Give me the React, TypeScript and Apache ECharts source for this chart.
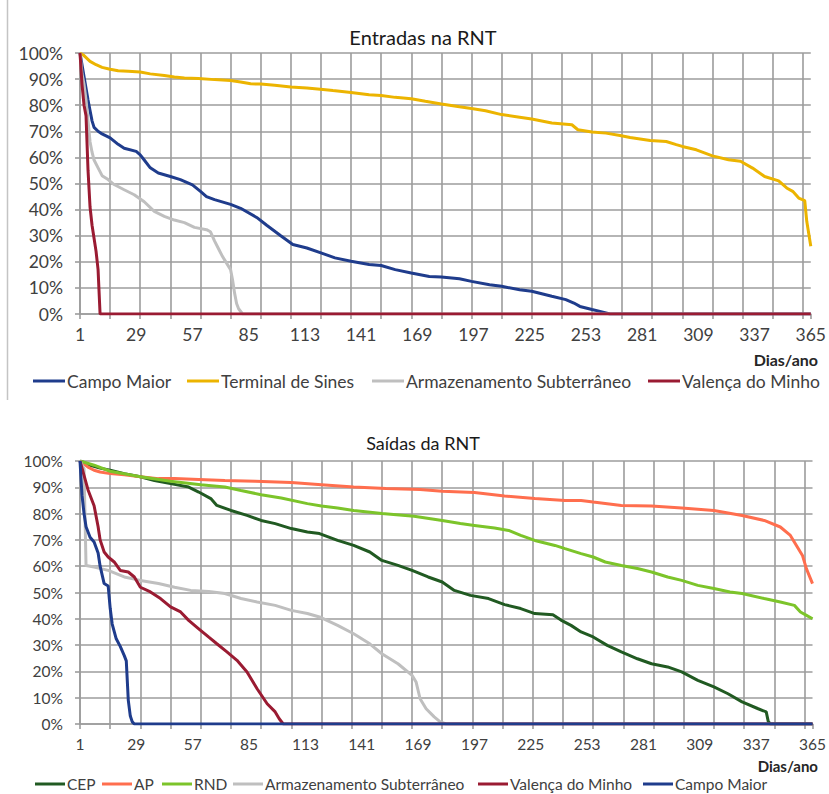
import React, { useEffect, useRef } from 'react';
import * as echarts from 'echarts';

// Categories (days of the year)
const days: string[] = Array.from({ length: 365 }, (_, i) => String(i + 1));

// ---- Entradas na RNT ([day, % of capacity]) ----
const inCampoMaior: [number, number][] = [
  [1, 100], [3, 91], [5, 82], [6, 78], [7, 74], [8, 71.5], [10, 70], [12, 69], [16, 67.5], [20, 65], [23, 63.5],
  [29, 62.3], [31, 61], [33, 59], [36, 56], [40, 54], [46, 52.7], [51, 51.5], [57, 49.5], [61, 47], [64, 45],
  [68, 43.8], [76, 42], [81, 40.5], [89, 37], [94, 34], [101, 30], [107, 26.6], [114, 25.3], [121, 23.4],
  [128, 21.5], [136, 20.2], [145, 19], [151, 18.6], [158, 17], [166, 15.7], [175, 14.4], [181, 14.2],
  [190, 13.5], [196, 12.5], [205, 11.2], [211, 10.6], [220, 9.3], [226, 8.7], [236, 6.8], [243, 5.5],
  [247, 4.2], [250, 2.9], [256, 1.7], [260, 1], [265, 0], [365, 0],
];
const inSines: [number, number][] = [
  [1, 100], [3, 99], [6, 96.8], [9, 95.5], [12, 94.5], [16, 93.8], [20, 93.2], [25, 93], [31, 92.7], [36, 92],
  [43, 91.4], [48, 90.8], [53, 90.4], [60, 90.2], [68, 89.8], [76, 89.5], [81, 88.9], [86, 88.2], [91, 88.1],
  [98, 87.6], [106, 87], [114, 86.6], [122, 86], [127, 85.6], [136, 84.9], [145, 84], [151, 83.7], [158, 83],
  [166, 82.5], [173, 81.5], [181, 80.5], [190, 79.4], [196, 78.7], [203, 77.9], [211, 76.4], [220, 75.4],
  [226, 74.7], [236, 73.2], [246, 72.5], [249, 70.6], [256, 69.7], [263, 69.3], [270, 68.4], [275, 67.6],
  [285, 66.5], [293, 66.1], [298, 64.9], [301, 64.2], [308, 62.9], [316, 60.6], [324, 59.1], [330, 58.5],
  [336, 55.9], [342, 52.7], [349, 51], [353, 48.3], [356, 47], [359, 44.4], [362, 43.4], [363, 35.5], [365, 26],
];
const inArmazenamento: [number, number][] = [
  [1, 100], [2, 92], [3, 88], [4, 82], [5, 74], [6, 66], [7, 62], [8, 59], [10, 56], [12, 53], [15, 51.5],
  [18, 49.6], [23, 47.6], [28, 45.7], [33, 43], [38, 39.3], [43, 37.4], [48, 36], [53, 35], [58, 33.2],
  [64, 32.3], [66, 31.5], [68, 28], [70, 25], [72, 22], [74, 19.5], [76, 17], [77, 13], [78, 8], [79, 4],
  [80, 2], [82, 0], [365, 0],
];
const inValenca: [number, number][] = [
  [1, 100], [2, 88], [3, 80], [4, 76], [5, 55], [6, 41], [7, 34], [8, 29], [9, 24], [10, 17], [11, 0], [365, 0],
];

// ---- Saídas da RNT ([day, % of capacity]) ----
const outCEP: [number, number][] = [
  [1, 100], [6, 98.4], [11, 97.3], [16, 96.5], [23, 95.2], [31, 94], [38, 92.6], [46, 91.4], [55, 90.1],
  [60, 88.2], [66, 85.7], [69, 83.1], [76, 81.2], [84, 79.3], [91, 77.4], [98, 76.2], [106, 74.3], [114, 73],
  [120, 72.4], [129, 69.8], [137, 67.9], [145, 65.4], [151, 62.2], [159, 60.3], [166, 58.4], [174, 55.9],
  [181, 54], [187, 50.8], [195, 48.9], [204, 47.7], [212, 45.4], [220, 43.9], [227, 42], [236, 41.5],
  [240, 39.5], [245, 37.5], [250, 35], [256, 33.1], [263, 29.9], [270, 27.4], [278, 24.8], [285, 22.9],
  [293, 21.7], [300, 19.8], [308, 16.6], [316, 14.1], [323, 11.5], [330, 8.4], [338, 5.8], [342, 4.6],
  [343, 1], [344, 0], [365, 0],
];
const outAP: [number, number][] = [
  [1, 100], [5, 97.7], [8, 96.5], [11, 95.8], [16, 95.2], [23, 94.8], [31, 94], [40, 93.3], [48, 93.3],
  [60, 93], [73, 92.6], [88, 92.3], [106, 91.8], [121, 91], [137, 90.1], [153, 89.5], [170, 89.2], [181, 88.5],
  [197, 88], [212, 86.7], [227, 85.7], [242, 85], [250, 85], [256, 84.4], [270, 83.1], [285, 82.9], [300, 82.1],
  [316, 81.2], [330, 79.3], [341, 77.4], [349, 74.9], [354, 71.7], [357, 67.9], [360, 64.1], [362, 59], [365, 53.4],
];
const outRND: [number, number][] = [
  [1, 100], [8, 98.4], [16, 96.1], [31, 94], [46, 92.3], [61, 91], [73, 90.1], [81, 88.8], [91, 87.2],
  [101, 85.9], [114, 83.8], [121, 82.9], [129, 82.1], [137, 81.2], [151, 80], [167, 79], [181, 77.4],
  [190, 76.2], [197, 75.5], [207, 74.5], [214, 73.6], [220, 71.7], [227, 69.8], [237, 67.9], [242, 66.7],
  [250, 64.8], [256, 63.5], [262, 61.6], [270, 60.3], [278, 59.1], [285, 57.8], [293, 55.9], [300, 54.6],
  [308, 52.7], [316, 51.5], [324, 50.2], [330, 49.6], [341, 47.7], [349, 46.4], [356, 45.1], [359, 42.6],
  [362, 41.3], [365, 40],
];
const outArmazenamento: [number, number][] = [
  [1, 100], [3, 97], [4, 60.3], [8, 59.7], [15, 58.4], [23, 55.9], [31, 54.6], [40, 53.4], [48, 52], [56, 50.8],
  [65, 50.4], [73, 49.6], [81, 47.7], [89, 46.4], [98, 45.1], [106, 43.2], [114, 42], [120, 40.7], [129, 37.5],
  [137, 34.3], [145, 30.5], [151, 26.7], [159, 22.9], [166, 18.5], [168, 16], [170, 9.6], [173, 5.8],
  [177, 2.7], [180, 0.8], [183, 0], [365, 0],
];
const outValenca: [number, number][] = [
  [1, 100], [3, 94.5], [5, 89], [8, 83], [10, 75], [11, 70], [13, 65.4], [15, 63.5], [18, 61.6], [21, 58.4],
  [25, 57.8], [28, 55.9], [31, 52], [36, 50.2], [41, 47.7], [46, 44.5], [51, 42.6], [55, 39.4], [60, 36.2],
  [65, 33], [69, 30.5], [74, 27.4], [79, 24.2], [84, 19.8], [89, 13.4], [94, 7.7], [98, 4.6], [100, 2],
  [102, 0], [365, 0],
];
const outCampoMaior: [number, number][] = [
  [1, 100], [2, 87], [3, 80], [4, 75], [6, 71], [8, 69.2], [10, 65], [11, 60], [13, 53.4], [15, 52.5],
  [16, 44], [17, 38], [19, 32.4], [21, 29.5], [23, 26], [24, 24], [25, 9], [26, 3], [27, 0.8], [28, 0], [365, 0],
];

const COLORS: Record<string, string> = {
  'Campo Maior': '#1f3c8c',
  'Terminal de Sines': '#ecb400',
  'Armazenamento Subterrâneo': '#bfbfbf',
  'Valença do Minho': '#9a1b32',
  CEP: '#215a22',
  AP: '#ff6e4e',
  RND: '#7cc42a',
};

const FONT = 'Lato, "Open Sans", sans-serif';
const GRID_COLOR = '#9c9c9c';
const LABEL_COLOR = '#404040';
const FS_TOP = 17.5;
const FS_BOTTOM = 15.5;
const gridLine = () => ({ color: GRID_COLOR, width: 1.6 });

const toData = (arr: [number, number][]) => arr.map(([d, v]) => [String(d), v]);

function xAxisFor(gridIndex: number, fs: number) {
  return {
    type: 'category',
    gridIndex,
    data: days,
    boundaryGap: false,
    axisLine: { show: true, lineStyle: gridLine() },
    axisTick: { show: false },
    splitLine: { show: false },
    axisLabel: { interval: 27, margin: fs > 16 ? 11 : 12, color: LABEL_COLOR, fontSize: fs, fontFamily: FONT },
  };
}

// hidden helper axis (day index 0..364) that draws the vertical grid every 15 days
function xGridAxisFor(gridIndex: number) {
  return {
    type: 'value',
    gridIndex,
    position: 'bottom',
    min: 0,
    max: 364,
    interval: 15,
    axisLine: { show: false },
    axisTick: { show: true, length: 5, lineStyle: gridLine() },
    splitLine: { show: true, showMaxLine: false, lineStyle: gridLine() },
    axisLabel: { show: false },
  };
}

function yAxisFor(gridIndex: number, fs: number) {
  return {
    type: 'value',
    gridIndex,
    min: 0,
    max: 100,
    interval: 10,
    axisLine: { show: true, lineStyle: gridLine() },
    axisTick: { show: true, length: 5, lineStyle: gridLine() },
    splitLine: { show: true, lineStyle: gridLine() },
    axisLabel: { formatter: '{value}%', margin: 17, color: LABEL_COLOR, fontSize: fs, fontFamily: FONT },
  };
}

function lineSeries(name: string, arr: [number, number][], idx: number) {
  return {
    type: 'line',
    name,
    xAxisIndex: idx,
    yAxisIndex: idx,
    data: toData(arr),
    symbol: 'none',
    showSymbol: false,
    lineStyle: { width: 3, color: COLORS[name] },
    itemStyle: { color: COLORS[name] },
  };
}

function legendAt(name: string, left: number, centerY: number, fs: number, iconW: number) {
  return {
    data: [{ name, icon: 'rect' }],
    left,
    top: centerY - 10,
    padding: 0,
    itemWidth: iconW,
    itemHeight: 3,
    selectedMode: false,
    textStyle: { color: LABEL_COLOR, fontSize: fs, fontFamily: FONT, padding: [0, 0, 0, -3] },
  };
}

export default function App() {
  const ref = useRef<HTMLDivElement>(null);
  useEffect(() => {
    if (!ref.current) return;
    const chart = echarts.init(ref.current, undefined, { renderer: 'svg' });
    chart.setOption({
      animation: false,
      backgroundColor: '#ffffff',
      grid: [
        { left: 80, top: 53, width: 734, height: 261 },
        { left: 80, top: 461, width: 734, height: 263 },
      ],
      xAxis: [xAxisFor(0, FS_TOP), xAxisFor(1, FS_BOTTOM), xGridAxisFor(0), xGridAxisFor(1)],
      yAxis: [yAxisFor(0, FS_TOP), yAxisFor(1, FS_BOTTOM)],
      legend: [
        legendAt('Campo Maior', 33, 382, FS_TOP, 32),
        legendAt('Terminal de Sines', 187, 382, FS_TOP, 32),
        legendAt('Armazenamento Subterrâneo', 372, 382, FS_TOP, 32),
        legendAt('Valença do Minho', 648, 382, FS_TOP, 32),
        legendAt('CEP', 35, 786, FS_BOTTOM, 30),
        legendAt('AP', 102, 786, FS_BOTTOM, 30),
        legendAt('RND', 162, 786, FS_BOTTOM, 30),
        legendAt('Armazenamento Subterrâneo', 233, 786, FS_BOTTOM, 30),
        legendAt('Valença do Minho', 478, 786, FS_BOTTOM, 30),
        legendAt('Campo Maior', 643, 786, FS_BOTTOM, 30),
      ],
      series: [
        lineSeries('Campo Maior', inCampoMaior, 0),
        lineSeries('Terminal de Sines', inSines, 0),
        lineSeries('Armazenamento Subterrâneo', inArmazenamento, 0),
        lineSeries('Valença do Minho', inValenca, 0),
        lineSeries('CEP', outCEP, 1),
        lineSeries('AP', outAP, 1),
        lineSeries('RND', outRND, 1),
        lineSeries('Armazenamento Subterrâneo', outArmazenamento, 1),
        lineSeries('Valença do Minho', outValenca, 1),
        lineSeries('Campo Maior', outCampoMaior, 1),
      ],
      graphic: [
        { type: 'line', shape: { x1: 7.5, y1: 0, x2: 7.5, y2: 400 }, style: { stroke: '#c4c4c4', lineWidth: 1.5 } },
        {
          type: 'text', x: 423, y: 37,
          style: { text: 'Entradas na RNT', fill: '#1a1a1a', fontSize: 20, fontFamily: FONT, align: 'center', verticalAlign: 'middle' },
        },
        {
          type: 'text', x: 423, y: 443,
          style: { text: 'Saídas da RNT', fill: '#1a1a1a', fontSize: 18, fontFamily: FONT, align: 'center', verticalAlign: 'middle' },
        },
        {
          type: 'text', x: 818, y: 359,
          style: { text: 'Dias/ano', fill: '#262626', fontSize: 16, fontWeight: 'bold', fontFamily: FONT, align: 'right', verticalAlign: 'middle' },
        },
        {
          type: 'text', x: 818, y: 766,
          style: { text: 'Dias/ano', fill: '#262626', fontSize: 15, fontWeight: 'bold', fontFamily: FONT, align: 'right', verticalAlign: 'middle' },
        },
      ],
    });
    return () => chart.dispose();
  }, []);
  return (
    <div
      ref={ref}
      style={{ position: 'absolute', left: 0, top: 0, width: 829, height: 794, background: '#fff' }}
    />
  );
}
